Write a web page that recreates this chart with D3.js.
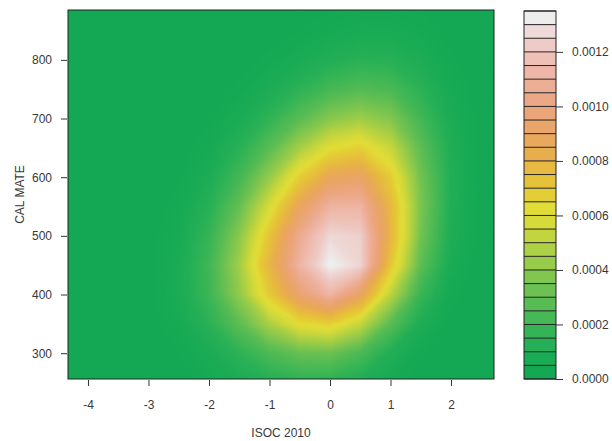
<!DOCTYPE html>
<html><head><meta charset="utf-8">
<script src="https://cdn.jsdelivr.net/npm/d3@7"></script>
<style>
body{margin:0;background:#fff}
svg{display:block}
text{font-family:"Liberation Sans",Arial,sans-serif;fill:#383838;font-size:12px}
</style>
</head><body><svg id="c" width="612" height="441"></svg>
<script>
// ---- data (density grid, values in units of 1e-5) ----
const gridX = [-4.5,-4,-3.5,-3,-2.5,-2,-1.5,-1,-0.5,0,0.5,1,1.5,2,2.5,3];
const gridY = [250,300,350,400,450,500,550,600,650,700,750,800,850,900];
const densityE5 = [
  [0,0.1,0.3,0.8,2,4.5,8,12,14.5,14,10,5,1.8,0.5,0.1,0],
  [0,0.1,0.3,1.2,3.4,8.1,15.6,24.5,31.4,32.6,23.9,11.7,3.8,0.9,0.1,0],
  [0,0.1,0.5,2,5.9,14.5,28.9,47,62.4,67.6,53.1,27.9,9.9,2.3,0.4,0],
  [0,0.2,0.7,2.5,7.9,19.9,41.2,69.3,95.4,112,90.2,50.9,19.3,4.9,0.8,0.1],
  [0,0.1,0.6,2.5,8,21,45,79,112,134,126,71,29,7.8,1.4,0.2],
  [0,0.1,0.5,2,6.6,17.8,39.6,71.6,105.7,127,124,78.8,34.3,10,2,0.3],
  [0,0.1,0.3,1.4,4.8,13.5,31,58,89,111,111.5,77.7,36.3,11.3,2.4,0.3],
  [0,0,0.2,0.9,3.1,9.2,21.9,42.5,67.3,87.2,91.6,68.5,34.3,11.5,2.6,0.4],
  [0,0,0.1,0.5,1.9,5.6,13.9,27.9,45.8,61.4,67.3,53.9,29,10.4,2.5,0.4],
  [0,0,0.05,0.3,1,3.1,7.9,16.5,28,39,44.2,38,21.9,8.4,2.2,0.4],
  [0,0,0,0.1,0.5,1.5,4.1,8.8,15.5,22.3,26.3,24,14.8,6.1,1.7,0.3],
  [0,0,0,0.05,0.2,0.7,1.9,4.2,7.6,11.4,13.9,13.4,8.9,3.9,1.2,0.2],
  [0,0,0,0,0.1,0.3,0.8,1.8,3.4,5.3,6.7,6.8,4.8,2.3,0.7,0.2],
  [0,0,0,0,0,0.1,0.3,0.7,1.4,2.2,2.9,3.05,2.3,1.2,0.4,0.1]
];
const levelsE5 = [0,5,10,15,20,25,30,35,40,45,50,55,60,65,70,75,80,85,90,95,100,105,110,115,120,125,130,135];
const palette = ["#14a854","#1aab55","#25af56","#34b456","#46b855","#58bc54","#6cc152","#81c64f","#97cb4a","#add044","#c3d53e","#d6da3a","#e2dc38",
  "#e4ce36","#e6c23a","#e7b842","#e8ae4e","#e9a85c","#eaa56a","#eba578","#eca886","#edae96","#eeb6a6","#eec0b6","#eecbc6","#eedad8","#eeeded"];
const xTicks = [-4,-3,-2,-1,0,1,2];
const yTicks = [300,400,500,600,700,800];
const legendTicks = [0,0.0002,0.0004,0.0006,0.0008,0.0010,0.0012];
const xTitle = "ISOC 2010";
const yTitle = "CAL MATE";

// ---- layout ----
const svg = d3.select("#c");
const P = {l:68, r:494, t:10, b:379};
const L = {l:524, r:556, t:11, b:379};
const x = d3.scaleLinear().domain([-4.33, 2.71]).range([P.l, P.r]);
const y = d3.scaleLinear().domain([256, 885]).range([P.b, P.t]);
const yL = d3.scaleLinear().domain([0, levelsE5[levelsE5.length-1]*1e-5]).range([L.b, L.t]);

const nx = gridX.length, ny = gridY.length;
const stepX = gridX[1]-gridX[0], stepY = gridY[1]-gridY[0];
const values = densityE5.flat();
const mids = palette.map((c,i)=>(levelsE5[i]+levelsE5[i+1])/2);
const color = d3.scaleLinear().domain(mids).range(palette).interpolate(d3.interpolateRgb).clamp(true);
const fine = d3.range(0, levelsE5[levelsE5.length-1]+0.01, 0.5);
const contours = d3.contours().size([nx, ny]).thresholds(fine)(values);
const proj = d3.geoTransform({point(px, py){
  this.stream.point(x(gridX[0] + (px-0.5)*stepX), y(gridY[0] + (py-0.5)*stepY));
}});
const path = d3.geoPath(proj);

svg.append("defs").append("clipPath").attr("id","clip").append("rect")
  .attr("x",P.l).attr("y",P.t).attr("width",P.r-P.l).attr("height",P.b-P.t);
const g = svg.append("g").attr("clip-path","url(#clip)");
g.append("rect").attr("x",P.l).attr("y",P.t).attr("width",P.r-P.l).attr("height",P.b-P.t).attr("fill",palette[0]);
g.selectAll("path.c").data(contours).join("path").attr("class","c")
  .attr("d", path).attr("fill", d=>color(d.value+0.25));
svg.append("rect").attr("x",P.l).attr("y",P.t).attr("width",P.r-P.l).attr("height",P.b-P.t)
  .attr("fill","none").attr("stroke","#222").attr("stroke-width",1);

// axes
const ax = svg.append("g").attr("transform",`translate(0,${P.b+1})`)
  .call(d3.axisBottom(x).tickValues(xTicks).tickSize(6).tickPadding(14).tickFormat(d=>String(d)));
const ay = svg.append("g").attr("transform",`translate(${P.l-1},0)`)
  .call(d3.axisLeft(y).tickValues(yTicks).tickSize(6).tickPadding(9));
[ax, ay].forEach(a=>{
  a.select(".domain").remove();
  a.selectAll("line").attr("stroke","#333");
  a.selectAll("text").attr("font-size",null).attr("font-family",null).attr("fill","#383838");
});

svg.append("text").attr("x",(P.l+P.r)/2).attr("y",437).attr("text-anchor","middle").text(xTitle);
svg.append("text").attr("transform",`translate(24,${(P.t+P.b)/2}) rotate(-90)`).attr("text-anchor","middle").text(yTitle);

// legend
const lg = svg.append("g");
lg.selectAll("rect.b").data(palette).join("rect").attr("class","b")
  .attr("x",L.l).attr("width",L.r-L.l)
  .attr("y",(d,i)=>yL(levelsE5[i+1]*1e-5)).attr("height",(d,i)=>yL(levelsE5[i]*1e-5)-yL(levelsE5[i+1]*1e-5))
  .attr("fill",d=>d);
lg.selectAll("line.s").data(levelsE5).join("line").attr("class","s")
  .attr("x1",L.l).attr("x2",L.r).attr("y1",d=>yL(d*1e-5)).attr("y2",d=>yL(d*1e-5))
  .attr("stroke","#222").attr("stroke-width",1);
lg.append("rect").attr("x",L.l).attr("y",L.t).attr("width",L.r-L.l).attr("height",L.b-L.t)
  .attr("fill","none").attr("stroke","#222").attr("stroke-width",1);
const al = svg.append("g").attr("transform",`translate(${L.r},0)`)
  .call(d3.axisRight(yL).tickValues(legendTicks).tickSize(7).tickPadding(9).tickFormat(d3.format(".4f")));
al.select(".domain").remove();
al.selectAll("line").attr("stroke","#333");
al.selectAll("text").attr("font-size",null).attr("font-family",null).attr("fill","#383838");
</script>
</body></html>
